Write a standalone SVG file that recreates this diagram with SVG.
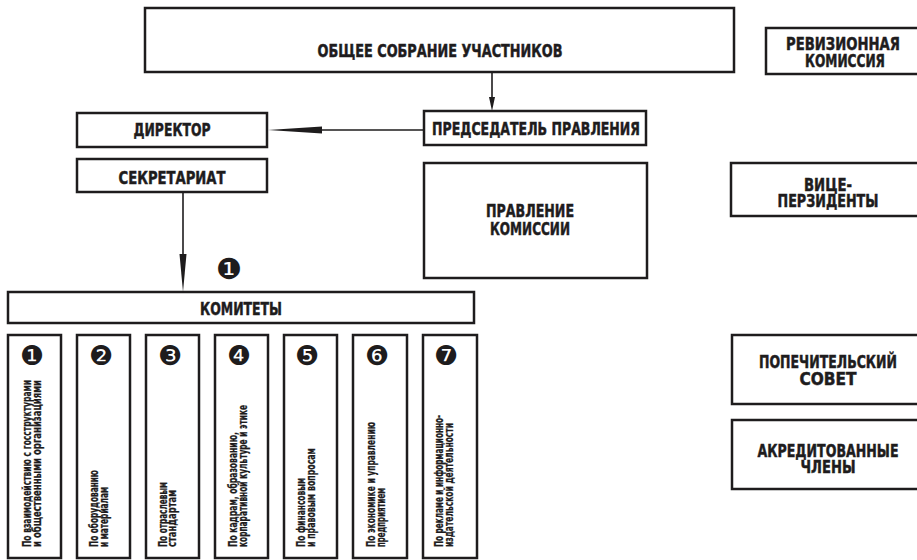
<svg xmlns="http://www.w3.org/2000/svg" width="917" height="560" viewBox="0 0 917 560">
<style>
.box{fill:#fff;stroke:#1e1c1d;stroke-width:2.5}
.h{font-family:"DejaVu Sans Condensed","DejaVu Sans",sans-serif;font-stretch:condensed;font-weight:bold;font-size:17px;fill:#1e1c1d;stroke:#1e1c1d;stroke-width:0.45;text-anchor:middle}
.v{font-family:"DejaVu Sans Condensed","DejaVu Sans",sans-serif;font-stretch:condensed;font-weight:bold;font-size:12px;fill:#1e1c1d;stroke:#1e1c1d;stroke-width:0.25}
.n{font-family:"DejaVu Sans",sans-serif;font-size:27px;fill:#1e1c1d;text-anchor:middle}
.ln{stroke:#1e1c1d;stroke-width:1.6;fill:none}
.ah{fill:#1e1c1d}
</style>
<rect width="917" height="560" fill="#fff"/>
<g id="connectors">
<line class="ln" x1="492" y1="72" x2="492" y2="100"/>
<polygon class="ah" points="492,111 489,97 495,97"/>
<line class="ln" x1="322" y1="130" x2="424" y2="130"/>
<polygon class="ah" points="268,130 322,126.5 322,133.5"/>
<line class="ln" x1="183" y1="192" x2="183" y2="256"/>
<polygon class="ah" points="183,292 179.5,254 186.5,254"/>
</g>
<g id="obshchee">
<rect class="box" x="145" y="8" width="589" height="64"/>
<text class="h" x="440" y="57" textLength="245" lengthAdjust="spacingAndGlyphs">ОБЩЕЕ СОБРАНИЕ УЧАСТНИКОВ</text>
</g>
<g id="predsedatel">
<rect class="box" x="424" y="111" width="222" height="34"/>
<text class="h" x="536" y="135" textLength="208" lengthAdjust="spacingAndGlyphs">ПРЕДСЕДАТЕЛЬ ПРАВЛЕНИЯ</text>
</g>
<g id="direktor">
<rect class="box" x="77" y="113" width="190" height="34"/>
<text class="h" x="172" y="136" textLength="77" lengthAdjust="spacingAndGlyphs">ДИРЕКТОР</text>
</g>
<g id="sekretariat">
<rect class="box" x="77" y="159" width="190" height="33"/>
<text class="h" x="172" y="184" textLength="107" lengthAdjust="spacingAndGlyphs">СЕКРЕТАРИАТ</text>
</g>
<g id="pravlenie">
<rect class="box" x="424" y="163" width="223" height="115"/>
<text class="h" x="530" y="217" textLength="88" lengthAdjust="spacingAndGlyphs">ПРАВЛЕНИЕ</text>
<text class="h" x="530" y="235" textLength="80" lengthAdjust="spacingAndGlyphs">КОМИССИИ</text>
</g>
<g id="revizionnaya">
<rect class="box" x="766" y="28" width="160" height="46"/>
<text class="h" x="843" y="50" textLength="114" lengthAdjust="spacingAndGlyphs">РЕВИЗИОННАЯ</text>
<text class="h" x="845" y="67" textLength="80" lengthAdjust="spacingAndGlyphs">КОМИССИЯ</text>
</g>
<g id="vice">
<rect class="box" x="731" y="163" width="195" height="53"/>
<text class="h" x="828" y="191" textLength="48" lengthAdjust="spacingAndGlyphs">ВИЦЕ-</text>
<text class="h" x="828" y="207" textLength="101" lengthAdjust="spacingAndGlyphs">ПЕРЗИДЕНТЫ</text>
</g>
<g id="popechitelsky">
<rect class="box" x="732" y="335" width="194" height="69"/>
<text class="h" x="828" y="368" textLength="138" lengthAdjust="spacingAndGlyphs">ПОПЕЧИТЕЛЬСКИЙ</text>
<text class="h" x="828" y="385" textLength="57" lengthAdjust="spacingAndGlyphs">СОВЕТ</text>
</g>
<g id="akreditovannye">
<rect class="box" x="732" y="420" width="194" height="69"/>
<text class="h" x="828" y="457" textLength="141" lengthAdjust="spacingAndGlyphs">АКРЕДИТОВАННЫЕ</text>
<text class="h" x="828" y="473" textLength="55" lengthAdjust="spacingAndGlyphs">ЧЛЕНЫ</text>
</g>
<g id="komitety">
<rect class="box" x="8" y="292" width="466" height="31"/>
<text class="h" x="241" y="315" textLength="82" lengthAdjust="spacingAndGlyphs">КОМИТЕТЫ</text>
<text class="n" x="229" y="279" style="font-size:29px">❶</text>
</g>
<g id="kom1">
<rect class="box" x="8" y="335" width="53" height="223"/>
<text class="n" x="32" y="365">❶</text>
<text class="v" transform="translate(31,547) rotate(-90)" textLength="167" lengthAdjust="spacingAndGlyphs">По взаимодействию с госструктурами</text>
<text class="v" transform="translate(41,547) rotate(-90)" textLength="167" lengthAdjust="spacingAndGlyphs">и общественными организациями</text>
</g>
<g id="kom2">
<rect class="box" x="77" y="335" width="53" height="223"/>
<text class="n" x="101" y="365">❷</text>
<text class="v" transform="translate(98,547) rotate(-90)" textLength="77" lengthAdjust="spacingAndGlyphs">По оборудованию</text>
<text class="v" transform="translate(108,547) rotate(-90)" textLength="60" lengthAdjust="spacingAndGlyphs">и материалам</text>
</g>
<g id="kom3">
<rect class="box" x="146" y="335" width="53" height="223"/>
<text class="n" x="170" y="365">❸</text>
<text class="v" transform="translate(167,547) rotate(-90)" textLength="65" lengthAdjust="spacingAndGlyphs">По отраслевым</text>
<text class="v" transform="translate(176,547) rotate(-90)" textLength="57" lengthAdjust="spacingAndGlyphs">стандартам</text>
</g>
<g id="kom4">
<rect class="box" x="215" y="335" width="53" height="223"/>
<text class="n" x="239" y="365">❹</text>
<text class="v" transform="translate(237,547) rotate(-90)" textLength="115" lengthAdjust="spacingAndGlyphs">По кадрам, образованию,</text>
<text class="v" transform="translate(247,547) rotate(-90)" textLength="142" lengthAdjust="spacingAndGlyphs">корпаративной культуре и этике</text>
</g>
<g id="kom5">
<rect class="box" x="284" y="335" width="53" height="223"/>
<text class="n" x="307" y="365">❺</text>
<text class="v" transform="translate(305,547) rotate(-90)" textLength="69" lengthAdjust="spacingAndGlyphs">По финансовым</text>
<text class="v" transform="translate(315,547) rotate(-90)" textLength="99" lengthAdjust="spacingAndGlyphs">и правовым вопросам</text>
</g>
<g id="kom6">
<rect class="box" x="353" y="335" width="54" height="223"/>
<text class="n" x="377" y="365">❻</text>
<text class="v" transform="translate(375,547) rotate(-90)" textLength="125" lengthAdjust="spacingAndGlyphs">По экономике и управлению</text>
<text class="v" transform="translate(385,547) rotate(-90)" textLength="59" lengthAdjust="spacingAndGlyphs">предприятием</text>
</g>
<g id="kom7">
<rect class="box" x="423" y="335" width="54" height="223"/>
<text class="n" x="446" y="365">❼</text>
<text class="v" transform="translate(443,547) rotate(-90)" textLength="132" lengthAdjust="spacingAndGlyphs">По рекламе и информационно-</text>
<text class="v" transform="translate(453,547) rotate(-90)" textLength="124" lengthAdjust="spacingAndGlyphs">издательской деятельности</text>
</g>
</svg>
